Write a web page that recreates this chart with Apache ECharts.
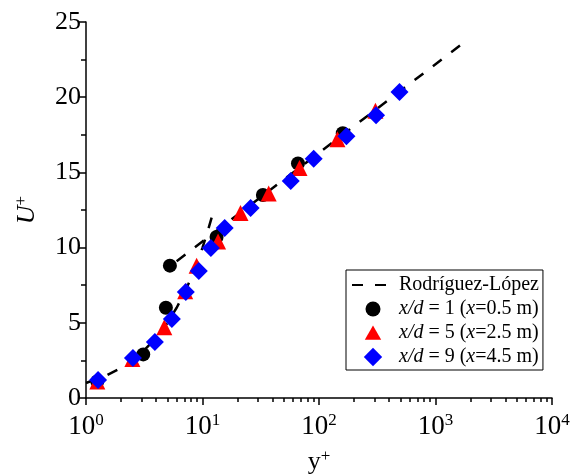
<!DOCTYPE html>
<html><head><meta charset="utf-8">
<script src="https://cdn.jsdelivr.net/npm/echarts@6/dist/echarts.min.js"></script>
<style>html,body{margin:0;padding:0;background:#fff}#c{width:571px;height:475px}</style>
</head><body><div id="c"></div>
<script>
// ---- data ----
const xMajorTicks = [1, 10, 100, 1000, 10000];
const xTickExponents = ['0', '1', '2', '3', '4'];
const xMinorTicks = [2,3,4,5,6,7,8,9,20,30,40,50,60,70,80,90,200,300,400,500,600,700,800,900,2000,3000,4000,5000,6000,7000,8000,9000];
const yTicks = [0, 5, 10, 15, 20, 25];

const seriesNames = ['Rodríguez-López', 'x/d = 1 (x=0.5 m)', 'x/d = 5 (x=2.5 m)', 'x/d = 9 (x=4.5 m)'];
const legendRich = ['{r|Rodríguez-López}', '{i|x/d}{r| = 1 (}{i|x}{r|=0.5 m)}', '{i|x/d}{r| = 5 (}{i|x}{r|=2.5 m)}', '{i|x/d}{r| = 9 (}{i|x}{r|=4.5 m)}'];

// Rodríguez-López reference: viscous sublayer and log-law segments
const lawViscous = [[1,1],[1.5,1.5],[2,2],[2.5,2.5],[3,3],[4,4],[5,5],[6,6],[7,7],[8,8],[9,9],[10,10],[11,11],[12.3,12.3]];
const lawLog = [[6,9.1],[1800,23.7]];

const xd1 = [[1.25,1.1],[3.1,2.9],[4.85,6.0],[5.25,8.8],[13.2,10.7],[33,13.5],[66,15.6],[160,17.6]];
const xd5 = [[1.25,1.1],[2.5,2.6],[4.7,4.7],[7.1,7.1],[8.9,8.8],[13.6,10.4],[21.2,12.3],[37,13.6],[68,15.3],[144,17.2],[305,19.1]];
const xd9 = [[1.27,1.2],[2.53,2.66],[3.9,3.72],[5.46,5.25],[7.19,7.05],[9.3,8.44],[11.8,9.97],[15.5,11.3],[25.9,12.63],[57.2,14.43],[90,15.9],[172,17.4],[309,18.8],[491,20.35]];

// ---- chart ----
const FONT = 'Liberation Serif';
const chart = echarts.init(document.getElementById('c'), null, {renderer: 'canvas'});
const dashStyle = {color: '#000', width: 2.5, type: [11, 12]};
chart.setOption({
  animation: false,
  backgroundColor: '#fff',
  grid: {left: 86, right: 19, top: 22, bottom: 77, containLabel: false, outerBoundsMode: 'none'},
  legend: {
    orient: 'vertical', left: 346, top: 270,
    backgroundColor: '#fff',
    borderColor: '#000', borderWidth: 1,
    padding: [5, 4, 3, 5],
    itemWidth: 42, itemHeight: 20, itemGap: 4,
    symbolKeepAspect: true,
    data: [
      {name: seriesNames[0], itemStyle: {color: 'rgba(0,0,0,0)', borderWidth: 0, opacity: 0}},
      {name: seriesNames[1], icon: 'path://M-1,-1M1,1M-0.75,0A0.75,0.75,0,1,0,0.75,0A0.75,0.75,0,1,0,-0.75,0Z'},
      {name: seriesNames[2], icon: 'path://M-1,-1M1,1M0,-0.75L0.82,0.68L-0.82,0.68Z'},
      {name: seriesNames[3], icon: 'path://M-1,-1M1,1M0,-0.92L0.92,0L0,0.92L-0.92,0Z'}
    ],
    formatter: function (n) { return legendRich[seriesNames.indexOf(n)]; },
    textStyle: {fontFamily: FONT, fontSize: 20, color: '#000', lineHeight: 20,
      rich: {
        i: {fontFamily: FONT, fontSize: 20, fontStyle: 'italic', color: '#000', lineHeight: 20},
        r: {fontFamily: FONT, fontSize: 20, color: '#000', lineHeight: 20}
      }}
  },
  xAxis: [{
    type: 'log', logBase: 10, min: 1, max: 10000,
    axisLine: {show: true, lineStyle: {color: '#000', width: 1.5}},
    axisTick: {show: true, inside: false, length: 7, lineStyle: {color: '#000', width: 1.5}},
    splitLine: {show: false},
    axisLabel: {
      margin: 14, color: '#000',
      formatter: function (v) {
        const k = xMajorTicks.indexOf(v);
        return '{b|10}{s|' + (k >= 0 ? xTickExponents[k] : '') + '}';
      },
      rich: {
        b: {fontFamily: FONT, fontSize: 27, color: '#000'},
        s: {fontFamily: FONT, fontSize: 17, color: '#000', verticalAlign: 'top', padding: [0, 0, 12, 0]}
      }
    },
    name: '{y|y}{p|+}', nameLocation: 'middle', nameGap: 50,
    nameTextStyle: {rich: {
      y: {fontFamily: FONT, fontSize: 26, color: '#000'},
      p: {fontFamily: FONT, fontSize: 17, color: '#000', padding: [0, 0, 12, 0]}
    }}
  }, {
    type: 'log', logBase: 10, min: 1, max: 10000, position: 'bottom',
    axisLine: {show: false},
    axisLabel: {show: false},
    splitLine: {show: false},
    axisTick: {show: true, inside: false, length: 4, customValues: xMinorTicks, lineStyle: {color: '#000', width: 1.5}}
  }],
  yAxis: {
    type: 'value', min: 0, max: 25, interval: 5,
    axisLine: {show: true, lineStyle: {color: '#000', width: 1.5}},
    axisTick: {show: true, inside: false, length: 8, lineStyle: {color: '#000', width: 1.5}},
    minorTick: {show: true, splitNumber: 2, length: 5, lineStyle: {color: '#000', width: 1.5}},
    splitLine: {show: false},
    axisLabel: {fontFamily: FONT, fontSize: 26, color: '#000', margin: 5},
    name: '{u|U}{p|+}', nameLocation: 'middle', nameGap: 44, nameRotate: 90,
    nameTextStyle: {rich: {
      u: {fontFamily: FONT, fontSize: 26, fontStyle: 'italic', color: '#000'},
      p: {fontFamily: FONT, fontSize: 17, color: '#000', padding: [0, 0, 12, 0]}
    }}
  },
  series: [
    {name: seriesNames[0], type: 'line', data: lawViscous, symbol: 'none', lineStyle: dashStyle, itemStyle: {color: '#000'}, z: 1},
    {name: seriesNames[0], type: 'line', data: lawLog, symbol: 'none', lineStyle: dashStyle, itemStyle: {color: '#000'}, z: 1},
    {name: seriesNames[1], type: 'scatter', data: xd1, symbol: 'circle', symbolSize: 14, itemStyle: {color: '#000', opacity: 1}, z: 2},
    {name: seriesNames[2], type: 'scatter', data: xd5, symbol: 'triangle', symbolSize: 16, itemStyle: {color: '#ff0000', opacity: 1}, z: 3},
    {name: seriesNames[3], type: 'scatter', data: xd9, symbol: 'diamond', symbolSize: 18, itemStyle: {color: '#0000ff', opacity: 1}, z: 4}
  ]
});
</script></body></html>
